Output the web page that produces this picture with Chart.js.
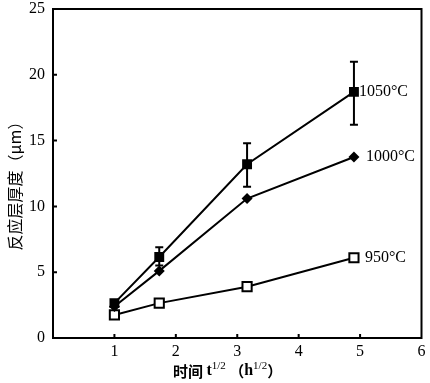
<!DOCTYPE html>
<html>
<head>
<meta charset="utf-8">
<script src="https://cdn.jsdelivr.net/npm/chart.js@4/dist/chart.umd.min.js"></script>
<style>
html,body{margin:0;padding:0;background:#fff;}
#wrap{width:430px;height:383px;}
</style>
</head>
<body>
<div id="wrap"><canvas id="c" width="430" height="383"></canvas></div>
<script>
// x positions: sqrt of time (h^1/2)
const xValues = [1, 1.73, 3.16, 4.9];
const t1050 = [2.65, 6.15, 13.2, 18.7];
const t1050Low = [2.65, 5.5, 11.5, 16.2];
const t1050High = [2.65, 6.9, 14.8, 21.0];
const t1000 = [2.4, 5.1, 10.6, 13.75];
const t950 = [1.75, 2.65, 3.9, 6.1];
const seriesLabels = ['1050°C', '1000°C', '950°C'];
const xTicks = [1, 2, 3, 4, 5, 6];
const yTicks = [0, 5, 10, 15, 20, 25];
const yTitle = '反应层厚度（μm）';

const pts = arr => xValues.map((x, i) => ({x: x, y: arr[i]}));

const SERIF = '"Liberation Serif", "DejaVu Serif", serif';
const CJK = '"Noto Sans CJK SC", sans-serif';

const decor = {
  id: 'decor',
  afterDatasetsDraw(chart) {
    const ctx = chart.ctx;
    const a = chart.chartArea;
    const xs = chart.scales.x, ys = chart.scales.y;
    ctx.save();
    // frame
    ctx.strokeStyle = '#000';
    ctx.lineWidth = 2;
    ctx.strokeRect(a.left, a.top, a.right - a.left, a.bottom - a.top);
    // inward ticks
    ctx.beginPath();
    yTicks.forEach(v => {
      if (v === 0 || v === 25) return;
      const py = ys.getPixelForValue(v);
      ctx.moveTo(a.left, py); ctx.lineTo(a.left + 4, py);
    });
    xTicks.forEach(v => {
      if (v === 6) return;
      const px = xs.getPixelForValue(v);
      ctx.moveTo(px, a.bottom); ctx.lineTo(px, a.bottom - 4);
    });
    ctx.stroke();
    // error bars for 1050
    xValues.forEach((x, i) => {
      if (t1050High[i] === t1050Low[i]) return;
      const px = xs.getPixelForValue(x);
      const pt = ys.getPixelForValue(t1050High[i]);
      const pb = ys.getPixelForValue(t1050Low[i]);
      ctx.beginPath();
      ctx.moveTo(px, pt); ctx.lineTo(px, pb);
      ctx.moveTo(px - 4, pt); ctx.lineTo(px + 4, pt);
      ctx.moveTo(px - 4, pb); ctx.lineTo(px + 4, pb);
      ctx.stroke();
    });
    // series labels
    ctx.fillStyle = '#000';
    ctx.font = '16px ' + SERIF;
    ctx.textBaseline = 'middle';
    ctx.textAlign = 'left';
    const last = xValues.length - 1;
    const lx = xs.getPixelForValue(xValues[last]);
    ctx.fillText(seriesLabels[0], lx + 5, ys.getPixelForValue(t1050[last]));
    ctx.fillText(seriesLabels[1], lx + 12, ys.getPixelForValue(t1000[last]));
    ctx.fillText(seriesLabels[2], lx + 11, ys.getPixelForValue(t950[last]));
    // y title
    ctx.save();
    ctx.translate(15, 182);
    ctx.rotate(-Math.PI / 2);
    ctx.textAlign = 'center';
    ctx.font = '16px ' + CJK;
    ctx.fillText(yTitle, 0, 0);
    ctx.restore();
    // x title with superscripts
    const parts = [
      {t: '时间 ', f: 'bold 15px ' + CJK, dy: 0},
      {t: 't', f: 'bold 16px ' + SERIF, dy: 0},
      {t: '1/2', f: '11px ' + SERIF, dy: -5},
      {t: ' （', f: 'bold 15px ' + CJK, dy: 0},
      {t: 'h', f: 'bold 16px ' + SERIF, dy: 0},
      {t: '1/2', f: '11px ' + SERIF, dy: -5},
      {t: '）', f: 'bold 15px ' + CJK, dy: 0}
    ];
    let px = 173;
    const py = 371;
    ctx.textAlign = 'left';
    parts.forEach(p => {
      ctx.font = p.f;
      ctx.fillText(p.t, px, py + p.dy);
      px += ctx.measureText(p.t).width;
    });
    ctx.restore();
  }
};

new Chart(document.getElementById('c'), {
  type: 'line',
  data: {
    datasets: [
      {label: seriesLabels[0], data: pts(t1050), borderColor: '#000', backgroundColor: '#000',
       borderWidth: 2, pointStyle: 'rect', pointRadius: 7, pointBorderWidth: 0},
      {label: seriesLabels[1], data: pts(t1000), borderColor: '#000', backgroundColor: '#000',
       borderWidth: 2, pointStyle: 'rectRot', pointRadius: 5.5, pointBorderWidth: 0},
      {label: seriesLabels[2], data: pts(t950), borderColor: '#000', backgroundColor: '#fff',
       pointBackgroundColor: '#fff', borderWidth: 2, pointStyle: 'rect', pointRadius: 6.5, pointBorderWidth: 2}
    ]
  },
  options: {
    responsive: false,
    animation: false,
    devicePixelRatio: 1,
    layout: {padding: {top: 0, left: 0, bottom: 0, right: -3}},
    plugins: {legend: {display: false}, tooltip: {enabled: false}},
    scales: {
      x: {
        type: 'linear', min: 0, max: 6,
        afterFit(s) { s.height = 45; s.paddingLeft = 0; s.paddingRight = 2; },
        afterBuildTicks(s) { s.ticks = [0].concat(xTicks).map(v => ({value: v})); },
        ticks: {color: '#000', font: {family: SERIF, size: 16}, padding: 4,
                callback: v => (v === 0 ? '' : String(v))},
        grid: {display: false, drawTicks: false},
        border: {display: false}
      },
      y: {
        type: 'linear', min: 0, max: 25,
        afterFit(s) { s.width = 53; s.paddingTop = 9; s.paddingBottom = 0; },
        afterBuildTicks(s) { s.ticks = yTicks.map(v => ({value: v})); },
        ticks: {color: '#000', font: {family: SERIF, size: 16}, padding: 8},
        grid: {display: false, drawTicks: false},
        border: {display: false}
      }
    }
  },
  plugins: [decor]
});
</script>
</body>
</html>
